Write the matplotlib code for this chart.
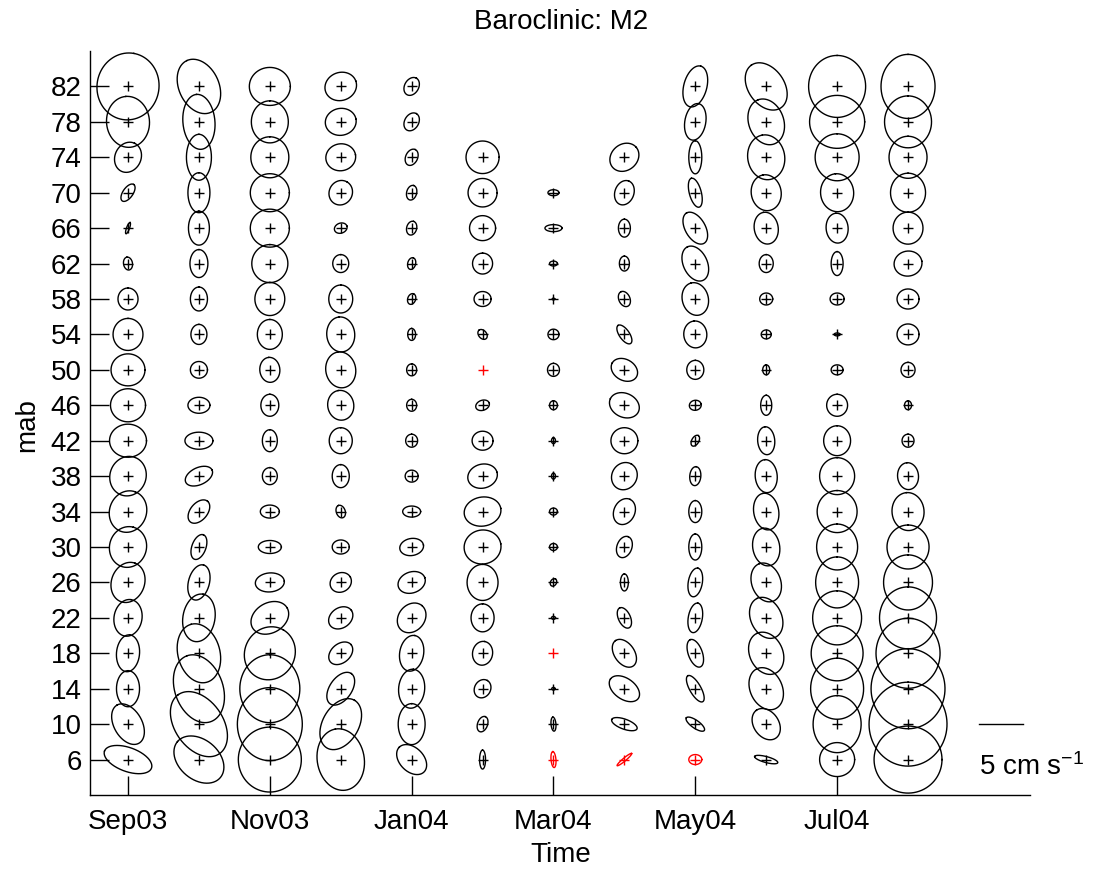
import numpy as np
import matplotlib
matplotlib.use("Agg")
import matplotlib.pyplot as plt

plt.rcParams["font.family"] = ["Liberation Sans", "DejaVu Sans"]
plt.rcParams["mathtext.fontset"] = "custom"
plt.rcParams["mathtext.rm"] = "Liberation Sans"
plt.rcParams["mathtext.it"] = "Liberation Sans:italic"

months = ["Sep03", "Oct03", "Nov03", "Dec03", "Jan04", "Feb04",
          "Mar04", "Apr04", "May04", "Jun04", "Jul04", "Aug04"]
mab = [82, 78, 74, 70, 66, 62, 58, 54, 50, 46, 42, 38, 34, 30, 26, 22, 18, 14, 10, 6]
tick_months = ["Sep03", "Nov03", "Jan04", "Mar04", "May04", "Jul04"]

# semi-major axis (cm/s), one row per month, depths 82 -> 6 mab, None = no record
semi_major = [
    [3.81, 2.90, 1.76, 1.14, 0.68, 0.74, 1.25, 1.82, 1.93, 1.99, 2.10, 2.27, 2.39, 2.33, 2.33, 2.10, 2.10, 2.05, 2.50, 2.84],
    [3.24, 3.13, 2.61, 2.27, 1.93, 1.59, 1.36, 1.14, 0.97, 1.25, 1.59, 1.65, 1.53, 1.48, 2.05, 2.73, 3.41, 3.98, 4.09, 3.18],
    [2.33, 2.39, 2.33, 2.22, 2.22, 2.16, 1.88, 1.70, 1.42, 1.25, 1.25, 0.97, 1.08, 1.31, 1.65, 2.27, 3.07, 3.86, 4.15, 3.69],
    [1.82, 1.76, 1.70, 1.42, 0.74, 1.02, 1.59, 1.99, 2.05, 1.70, 1.48, 1.31, 0.74, 0.97, 1.25, 1.48, 1.53, 2.10, 3.13, 3.52],
    [1.08, 1.08, 0.97, 0.85, 0.80, 0.68, 0.63, 0.68, 0.68, 0.68, 0.74, 0.74, 1.02, 1.36, 1.59, 1.82, 2.05, 2.22, 2.33, 1.99],
    [None, None, 1.88, 1.65, 1.48, 1.19, 0.97, 0.63, 0.00, 0.80, 1.19, 1.70, 2.10, 2.10, 2.05, 1.59, 1.36, 1.08, 0.91, 1.08],
    [None, None, None, 0.63, 0.97, 0.45, 0.15, 0.63, 0.74, 0.51, 0.34, 0.34, 0.45, 0.45, 0.45, 0.23, 0.00, 0.20, 0.80, 0.91],
    [None, None, 1.76, 1.42, 1.02, 0.85, 0.91, 1.25, 1.59, 1.76, 1.53, 1.59, 1.53, 1.25, 0.97, 1.25, 1.76, 1.93, 1.53, 1.08],
    [2.39, 2.10, 1.88, 1.70, 1.99, 2.10, 1.88, 1.53, 1.08, 0.68, 0.68, 1.08, 1.25, 1.48, 1.65, 1.70, 1.65, 1.70, 1.25, 0.74],
    [2.95, 2.67, 2.56, 2.05, 1.82, 1.02, 0.74, 0.57, 0.57, 1.14, 1.59, 1.88, 2.10, 2.16, 2.27, 2.44, 2.50, 2.50, 1.93, 1.36],
    [3.52, 3.13, 2.67, 2.16, 1.70, 1.36, 0.80, 0.34, 0.68, 1.25, 1.70, 2.10, 2.39, 2.61, 2.90, 3.07, 3.13, 3.47, 3.24, 1.99],
    [3.64, 2.95, 2.39, 2.22, 1.82, 1.59, 1.25, 1.25, 0.85, 0.51, 0.74, 1.53, 2.16, 2.50, 3.13, 3.52, 3.98, 4.55, 4.77, 3.86],
]

# semi-minor axis (cm/s)
semi_minor = [
    [3.52, 2.44, 1.48, 0.57, 0.17, 0.51, 1.14, 1.70, 1.82, 1.88, 1.88, 2.05, 2.10, 2.10, 1.88, 1.59, 1.31, 1.31, 1.59, 1.36],
    [2.27, 1.82, 1.42, 1.25, 1.19, 1.02, 0.97, 0.91, 0.95, 0.91, 0.97, 0.97, 0.97, 0.80, 1.19, 1.82, 2.39, 2.73, 2.73, 2.27],
    [2.16, 2.10, 2.16, 2.16, 2.16, 2.05, 1.70, 1.42, 1.14, 1.02, 0.85, 0.85, 0.74, 0.74, 1.08, 1.70, 2.84, 3.41, 3.69, 3.58],
    [1.59, 1.53, 1.53, 1.31, 0.57, 0.91, 1.36, 1.59, 1.70, 1.48, 1.31, 0.97, 0.51, 0.80, 1.08, 1.14, 1.08, 1.25, 2.05, 2.67],
    [0.80, 0.80, 0.68, 0.57, 0.57, 0.45, 0.45, 0.45, 0.57, 0.57, 0.68, 0.68, 0.63, 0.97, 1.19, 1.48, 1.36, 1.48, 1.53, 1.36],
    [None, None, 1.85, 1.62, 1.42, 1.14, 0.85, 0.45, 0.00, 0.57, 1.08, 1.36, 1.65, 1.93, 1.76, 1.31, 1.14, 0.91, 0.57, 0.34],
    [None, None, None, 0.34, 0.40, 0.28, 0.10, 0.60, 0.68, 0.45, 0.23, 0.23, 0.40, 0.40, 0.34, 0.17, 0.00, 0.15, 0.28, 0.28],
    [None, None, 1.48, 1.08, 0.68, 0.57, 0.63, 0.57, 1.19, 1.36, 1.48, 1.42, 1.19, 0.85, 0.45, 0.68, 1.14, 1.19, 0.57, 0.17],
    [1.31, 1.19, 0.74, 0.68, 1.14, 1.36, 1.48, 1.31, 0.97, 0.57, 0.40, 0.63, 0.74, 0.74, 0.80, 0.80, 0.80, 0.63, 0.45, 0.57],
    [2.05, 1.99, 2.10, 1.70, 1.36, 0.80, 0.68, 0.51, 0.40, 0.63, 0.97, 1.25, 1.42, 1.53, 1.65, 1.76, 1.88, 1.82, 1.42, 0.34],
    [3.24, 3.01, 2.50, 1.88, 1.25, 0.68, 0.68, 0.17, 0.57, 1.19, 1.53, 1.99, 2.27, 2.33, 2.44, 2.78, 2.95, 3.01, 2.73, 1.93],
    [3.07, 2.67, 2.16, 1.99, 1.70, 1.42, 1.14, 1.19, 0.80, 0.40, 0.68, 1.19, 1.82, 2.39, 2.78, 3.24, 3.64, 4.20, 4.43, 3.81],
]

# inclination of the major axis (degrees anticlockwise from east)
inclination = [
    [80, 95, 65, 55, 70, 100, 90, 90, 0, 0, 0, 70, 70, 75, 70, 80, 85, 90, 120, 160],
    [115, 95, 90, 90, 90, 90, 90, 90, 0, 0, 0, 25, 50, 70, 75, 80, 105, 110, 125, 140],
    [0, 90, 90, 0, 0, 90, 90, 90, 95, 90, 90, 90, 0, 0, 5, 30, 60, 90, 90, 90],
    [20, 10, 10, 60, 20, 90, 90, 95, 100, 100, 90, 90, 110, 0, 30, 35, 40, 55, 60, 100],
    [60, 60, 65, 75, 75, 75, 70, 90, 90, 90, 90, 0, 0, 10, 20, 50, 80, 85, 90, 135],
    [None, None, 0, 0, 0, 90, 0, 130, 0, 20, 0, 15, 10, 10, 90, 90, 80, 60, 70, 90],
    [None, None, None, 0, 0, 0, 0, 0, 90, 90, 90, 90, 0, 0, 60, 0, 0, 0, 95, 95],
    [None, None, 40, 70, 90, 90, 115, 125, 150, 155, 0, 60, 65, 70, 90, 115, 125, 145, 160, 40],
    [75, 80, 90, 105, 120, 115, 105, 95, 90, 10, 60, 85, 90, 90, 80, 80, 110, 120, 145, 0],
    [125, 110, 100, 100, 100, 90, 0, 0, 90, 90, 95, 95, 100, 100, 110, 115, 115, 115, 125, 165],
    [90, 0, 90, 95, 95, 90, 0, 0, 0, 90, 90, 90, 90, 90, 90, 90, 90, 90, 90, 0],
    [90, 90, 90, 90, 90, 10, 0, 0, 90, 90, 90, 95, 95, 90, 90, 90, 90, 90, 90, 0],
]

# records below the significance level, drawn in red
insignificant = [("Feb04", 50), ("Mar04", 18), ("Mar04", 6), ("Apr04", 6), ("May04", 6)]

scale_bar = 5  # cm/s

# layout in pixels of the 1101 x 873 figure
fig_w, fig_h = 1101, 873
ax_left, ax_right, ax_bottom, ax_top = 90, 1030, 795, 51
xlim = (-0.536, 12.72)
ylim = (2, 86)
px_per_cms = 8.8

fig = plt.figure(figsize=(fig_w / 100, fig_h / 100), dpi=100)
ax = fig.add_axes([ax_left / fig_w, (fig_h - ax_bottom) / fig_h,
                   (ax_right - ax_left) / fig_w, (ax_bottom - ax_top) / fig_h])
ax.set_xlim(xlim)
ax.set_ylim(ylim)

px_x = (ax_right - ax_left) / (xlim[1] - xlim[0])
px_y = (ax_bottom - ax_top) / (ylim[1] - ylim[0])

t = np.linspace(0, 2 * np.pi, 240)
for i, month in enumerate(months):
    for j, z in enumerate(mab):
        a = semi_major[i][j]
        if a is None:
            continue
        b = semi_minor[i][j]
        th = np.deg2rad(inclination[i][j])
        color = "red" if (month, z) in insignificant else "black"
        if a > 0:
            u = a * np.cos(t)
            v = b * np.sin(t)
            dx = (u * np.cos(th) - v * np.sin(th)) * px_per_cms / px_x
            dy = (u * np.sin(th) + v * np.cos(th)) * px_per_cms / px_y
            ax.plot(i + dx, z + dy, color=color, lw=1.0, clip_on=False)
        ax.plot(i, z, "+", color=color, ms=7, mew=1.0, clip_on=False)

# scale bar
x0 = 12.0
ax.plot([x0, x0 + scale_bar * px_per_cms / px_x], [10, 10], color="black", lw=1.0, clip_on=False)
ax.text(x0, 5.2, r"%d cm s$^{-1}$" % scale_bar, fontsize=20, ha="left", va="center", clip_on=False)

ax.set_xticks([months.index(m) for m in tick_months])
ax.set_xticklabels(tick_months)
ax.set_yticks(mab)
ax.set_yticklabels([str(v) for v in mab])
ax.spines["top"].set_visible(False)
ax.spines["right"].set_visible(False)
for s in ["left", "bottom"]:
    ax.spines[s].set_linewidth(1.0)
ax.tick_params(direction="in", length=13.7, width=1.0, labelsize=20)
ax.tick_params(axis="x", pad=10)
ax.tick_params(axis="y", pad=6)

fig.text(561 / fig_w, 1 - 22 / fig_h, "Baroclinic: M2", fontsize=20, ha="center", va="center")
fig.text(561 / fig_w, 1 - 855 / fig_h, "Time", fontsize=20, ha="center", va="center")
fig.text(27 / fig_w, 1 - 425 / fig_h, "mab", fontsize=20, ha="center", va="center", rotation=90)

fig.savefig("out.png", dpi=100)
